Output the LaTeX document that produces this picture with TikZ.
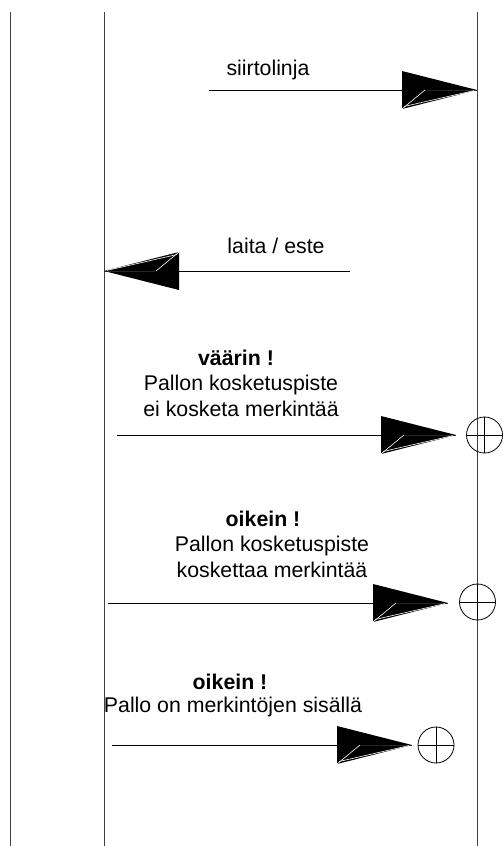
\documentclass[tikz,border=0pt]{standalone}
\usepackage{fontspec}
\setmainfont{Liberation Sans}
\usetikzlibrary{positioning}
\tikzset{
  raja/.style={black!75, line width=0.9pt},
  viiva/.style={black, line width=0.9pt},
  teksti/.style={inner sep=0pt, align=center, font=\fontsize{21.3}{25.5}\selectfont},
  otsikko/.style={inner sep=0pt, font=\fontsize{21.3}{25.5}\selectfont\bfseries},
  pallo/.style={circle, draw, minimum size=36pt, inner sep=0pt, line width=0.8pt},
  nuoli/.pic={
    \fill[black] (0,0) -- (-75,19) -- (-75,-19) -- cycle;
    \draw[white, line width=0.6pt] (-75,19) -- (-52,0);
    \draw[black!85, line width=0.4pt] (-52,0) -- (0,0);
    \draw[white, line width=0.6pt] (-73,16.5) -- (-3,0.6);
  }
}
\begin{document}
\begin{tikzpicture}[x=1pt, y=-1pt]
\useasboundingbox (0,0) rectangle (503,846);
% pystyviivat
\draw[raja] (10,12) -- (10,846);
\draw[raja] (104,12) -- (104,846);
\draw[raja] (477,12) -- (477,846);
% siirtolinja
\node[teksti] (s1) at (268,70) {siirtolinja};
\coordinate (a1) at (209,90);
\coordinate (k1) at (477,90);
\draw[viiva] (a1) -- (k1);
\pic at (k1) {nuoli};
% laita / este
\node[teksti] (s2) at (276,246) {laita / este};
\coordinate (a2) at (350,271);
\coordinate (k2) at (104,271);
\draw[viiva] (a2) -- (k2);
\pic[rotate=180] at (k2) {nuoli};
% väärin
\node[otsikko] (v1) at (236,358) {väärin !};
\node[teksti] (v2) at (241,396) {Pallon kosketuspiste\\ei kosketa merkintää};
\node[pallo] (p1) at (484.5,435) {};
\draw[line width=0.8pt] (p1.north) -- (p1.south) (p1.west) -- (p1.east);
\coordinate (a3) at (117,435);
\coordinate (k3) at (456,435);
\draw[viiva] (a3) -- (k3);
\pic at (k3) {nuoli};
% oikein 1
\node[otsikko] (o1) at (263,519) {oikein !};
\node[teksti] (o2) at (272,557) {Pallon kosketuspiste\\koskettaa merkintää};
\node[pallo] (p2) at (477.5,602) {};
\draw[line width=0.8pt] (p2.north) -- (p2.south) (p2.west) -- (p2.east);
\coordinate (a4) at (108,603);
\coordinate (k4) at (448,603);
\draw[viiva] (a4) -- (k4);
\pic at (k4) {nuoli};
% oikein 2
\node[otsikko] (o3) at (230,682) {oikein !};
\node[teksti] (o4) at (233,707) {Pallo on merkintöjen sisällä};
\node[pallo] (p3) at (436,745) {};
\draw[line width=0.8pt] (p3.north) -- (p3.south) (p3.west) -- (p3.east);
\coordinate (a5) at (112,745);
\coordinate (k5) at (412,745);
\draw[viiva] (a5) -- (k5);
\pic at (k5) {nuoli};
\end{tikzpicture}
\end{document}
